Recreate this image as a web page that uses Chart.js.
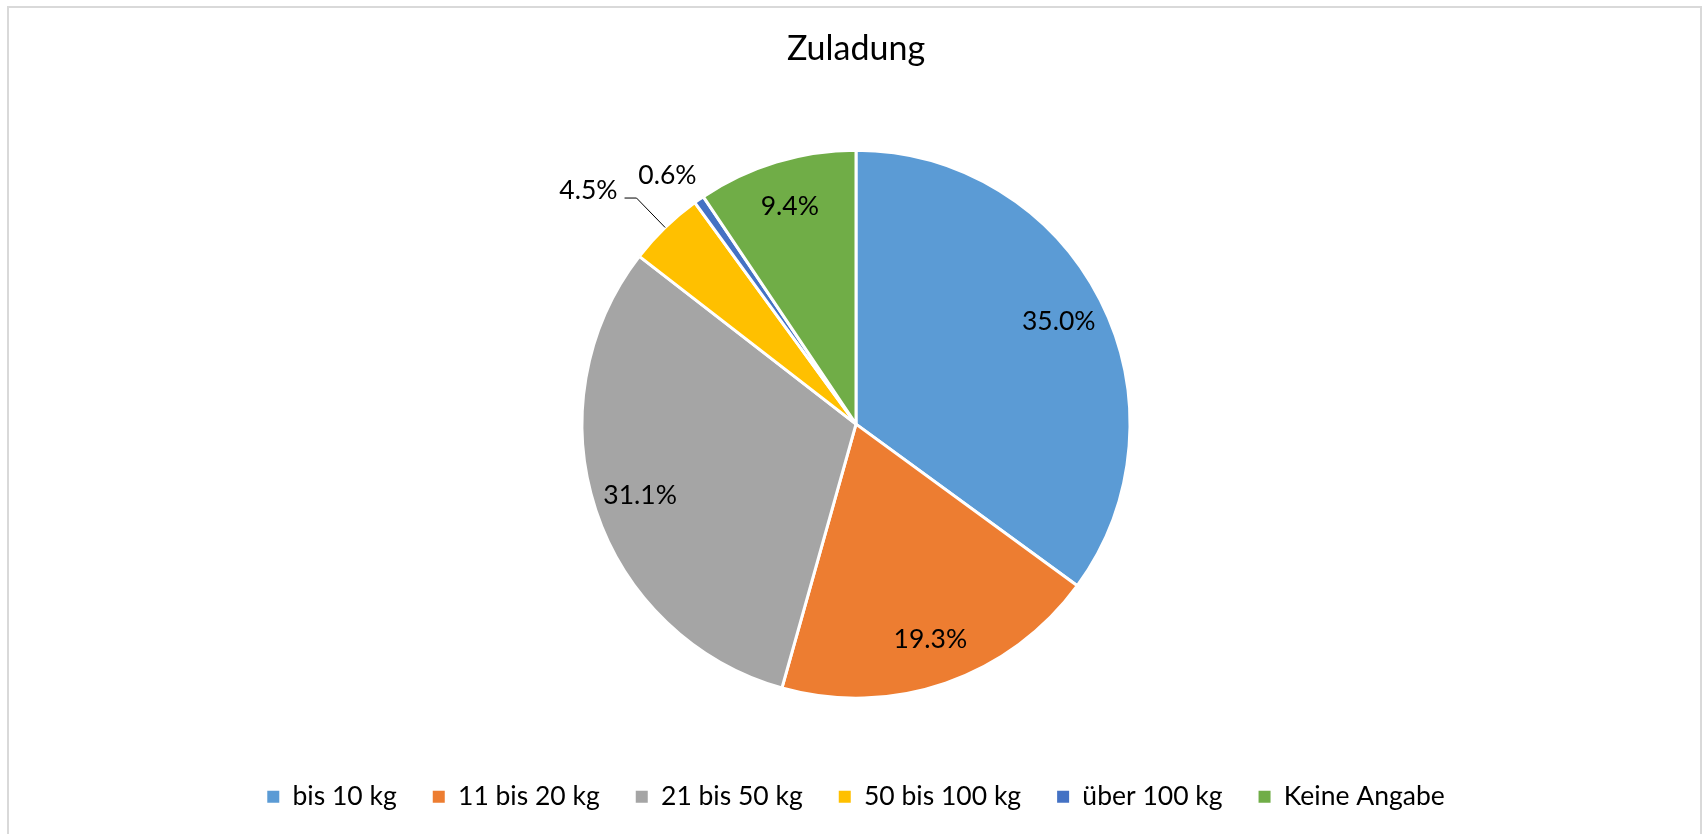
<!DOCTYPE html>
<html>
<head>
<meta charset="utf-8">
<script src="https://cdn.jsdelivr.net/npm/chart.js@4"></script>
<style>
  html, body { margin: 0; padding: 0; background: #fff; overflow: hidden; }
  #frame { position: absolute; left: 7px; top: 6px; width: 1695px; height: 900px; box-sizing: border-box; border: 2px solid #d9d9d9; }
  #chart { position: absolute; left: 0; top: 0; }
</style>
</head>
<body>
<div id="frame"></div>
<canvas id="chart" width="1703" height="834"></canvas>
<script>
const chartTitle = "Zuladung";
const categories = ["bis 10 kg", "11 bis 20 kg", "21 bis 50 kg", "50 bis 100 kg", "über 100 kg", "Keine Angabe"];
const shares = [35.0, 19.3, 31.1, 4.5, 0.6, 9.4];
const colors = ["#5B9BD5", "#ED7D31", "#A5A5A5", "#FFC000", "#4472C4", "#70AD47"];
// where each percentage label goes
const labelPlacement = ["in", "in", "in", "leader", "out", "in"];

const FONT = "Lato";

// draw the percentage labels from the arcs chart.js computed
const sliceLabels = {
  id: "sliceLabels",
  afterDatasetsDraw(chart) {
    const ctx = chart.ctx;
    const arcs = chart.getDatasetMeta(0).data;
    ctx.save();
    ctx.font = "26.5px " + FONT;
    ctx.fillStyle = "#000";
    ctx.strokeStyle = "#000";
    ctx.lineWidth = 1;
    arcs.forEach((arc, i) => {
      const {x, y, startAngle, endAngle, outerRadius} =
        arc.getProps(["x", "y", "startAngle", "endAngle", "outerRadius"], true);
      const mid = (startAngle + endAngle) / 2;
      const text = shares[i].toFixed(1) + "%";
      if (labelPlacement[i] === "in") {
        ctx.textAlign = "center";
        ctx.textBaseline = "middle";
        ctx.fillText(text, x + Math.cos(mid) * outerRadius * 0.83, y + Math.sin(mid) * outerRadius * 0.83);
      } else if (labelPlacement[i] === "leader") {
        const ex = x + Math.cos(mid) * outerRadius;
        const ey = y + Math.sin(mid) * outerRadius;
        const kx = x + Math.cos(mid) * outerRadius * 1.15;
        const ky = y + Math.sin(mid) * outerRadius * 1.15;
        ctx.beginPath();
        ctx.moveTo(ex, ey);
        ctx.lineTo(kx, ky);
        ctx.lineTo(kx - 12, ky);
        ctx.stroke();
        ctx.textAlign = "right";
        ctx.textBaseline = "alphabetic";
        ctx.fillText(text, kx - 19, ky + 1);
      } else {
        const a = mid - 0.038;
        ctx.textAlign = "center";
        ctx.textBaseline = "middle";
        ctx.fillText(text, x + Math.cos(a) * outerRadius * 1.14, y + Math.sin(a) * outerRadius * 1.14);
      }
    });
    ctx.restore();
  }
};

const pieLegendLabels = Chart.overrides.pie.plugins.legend.labels.generateLabels;

new Chart(document.getElementById("chart"), {
  type: "pie",
  data: {
    labels: categories,
    datasets: [{
      data: shares,
      backgroundColor: colors,
      borderColor: "#fff",
      borderWidth: 3
    }]
  },
  options: {
    responsive: false,
    animation: false,
    devicePixelRatio: 1,
    radius: 274,
    layout: { padding: { left: 9, right: 0, top: 0, bottom: 14 } },
    plugins: {
      title: {
        display: true,
        text: chartTitle,
        color: "#000",
        font: { family: FONT, size: 34, weight: "normal" },
        padding: { top: 29, bottom: 31 }
      },
      legend: {
        position: "bottom",
        labels: {
          color: "#000",
          font: { family: FONT, size: 26.5 },
          boxWidth: 12,
          boxHeight: 12,
          padding: 36,
          generateLabels(chart) {
            return pieLegendLabels(chart).map(item => Object.assign(item, { strokeStyle: item.fillStyle, lineWidth: 0 }));
          }
        }
      },
      tooltip: { enabled: false }
    }
  },
  plugins: [sliceLabels]
});
</script>
</body>
</html>
